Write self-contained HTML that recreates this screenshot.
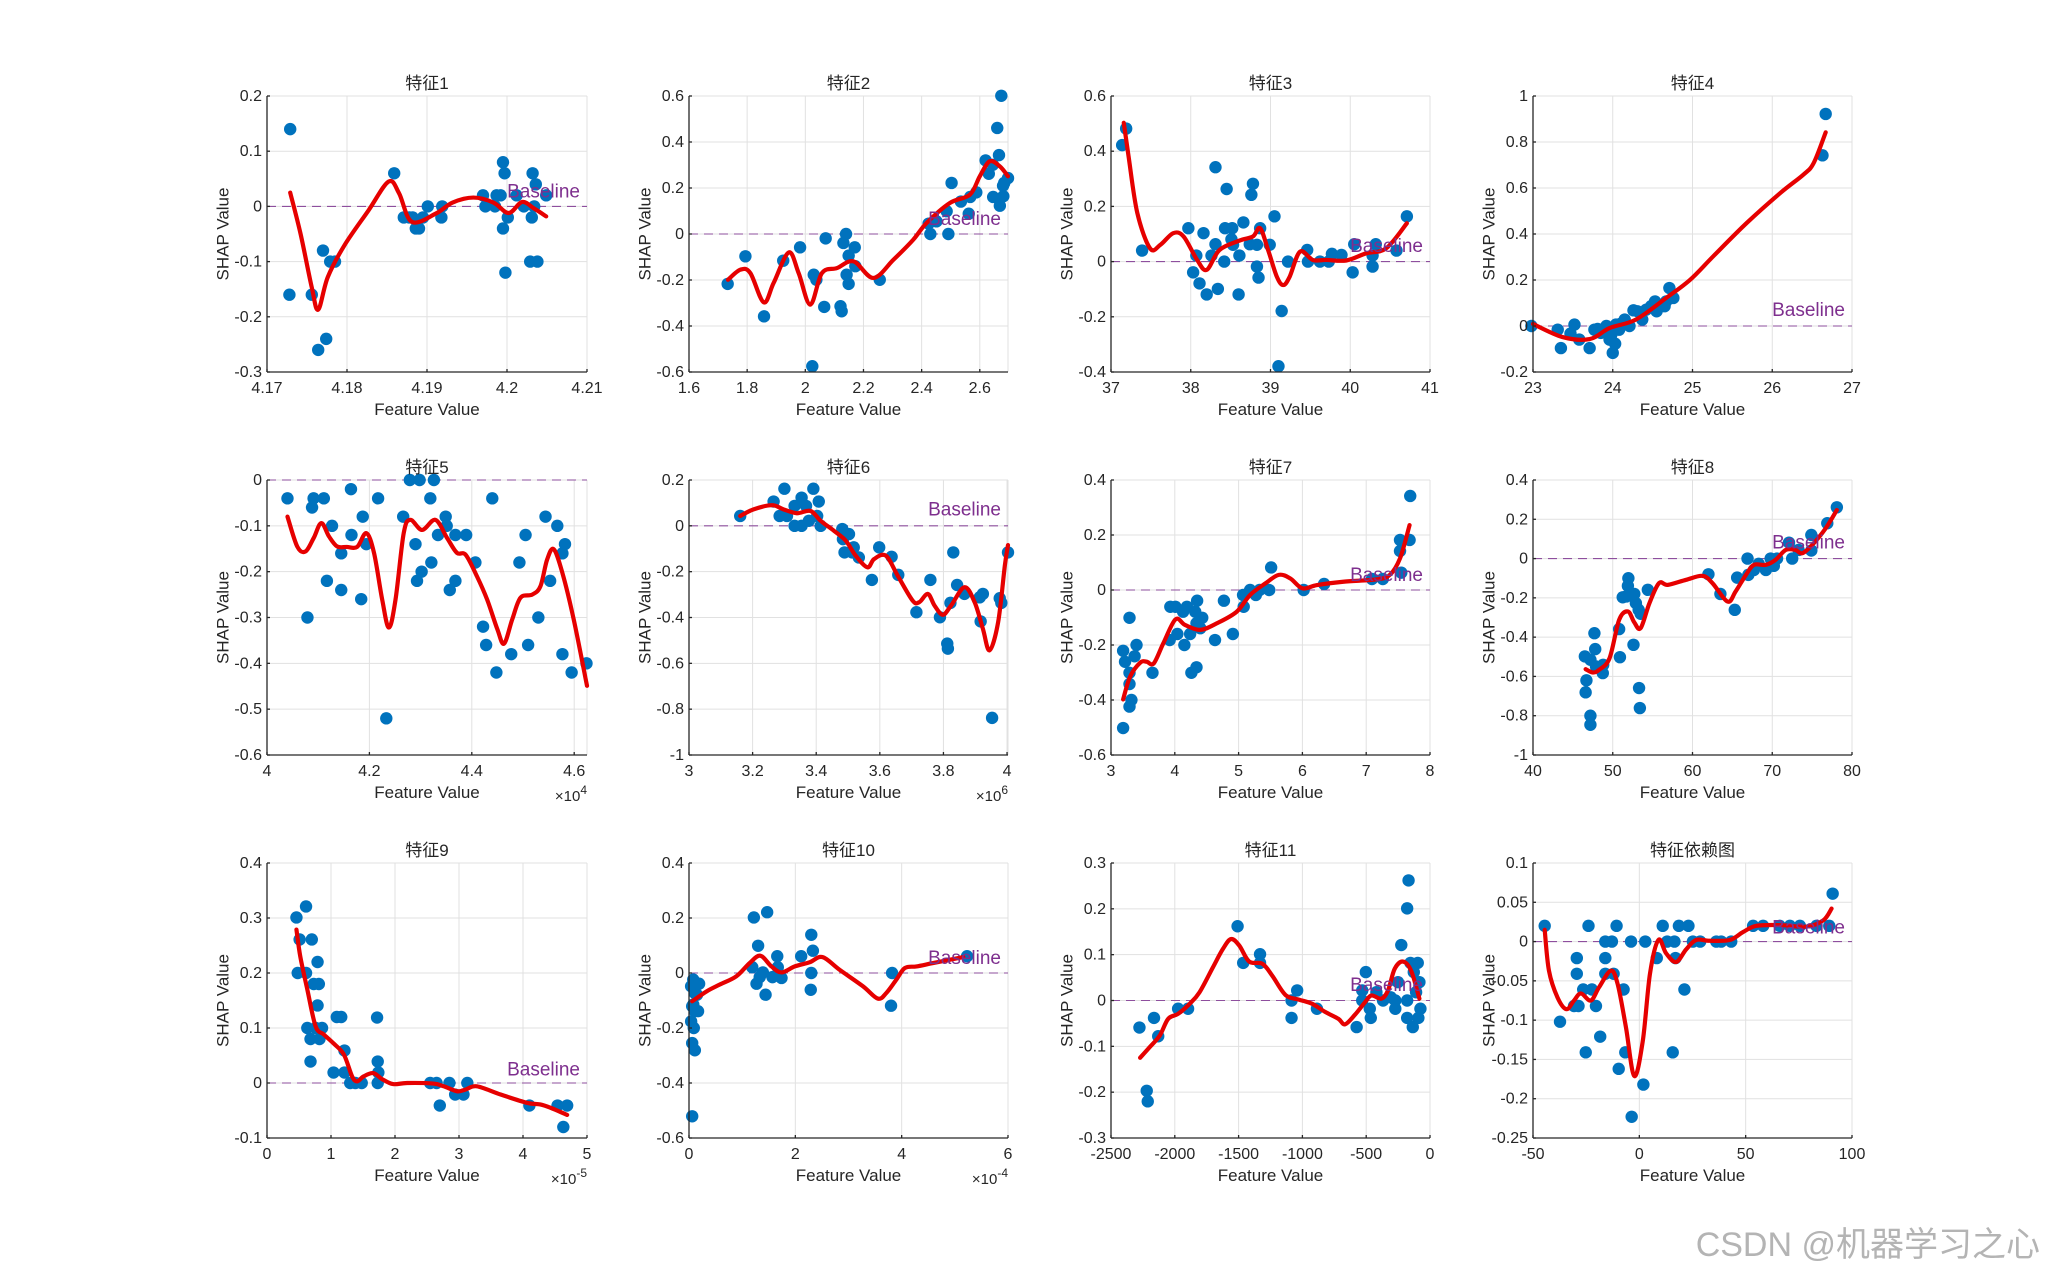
<!DOCTYPE html>
<html><head><meta charset="utf-8"><style>
html,body{margin:0;padding:0;background:#fff;}
svg{display:block;font-family:"Liberation Sans","Noto Sans CJK SC",sans-serif;}
</style></head><body>
<svg id="fig" width="2048" height="1280" viewBox="0 0 2048 1280" xmlns="http://www.w3.org/2000/svg">
<rect width="2048" height="1280" fill="#fff"/>
<text x="2040" y="1256" text-anchor="end" font-size="34" fill="#b4b4b4">CSDN @机器学习之心</text>
</svg>
<script>
// ---- data ----
const titles = ["特征1","特征2","特征3","特征4","特征5","特征6","特征7","特征8","特征9","特征10","特征11","特征依赖图"];
const p1x=[4.1729,4.1728,4.1756,4.177,4.1779,4.1785,4.1764,4.1774,4.1859,4.1871,4.1878,4.1901,4.1919,4.1918,4.1886,4.189,4.197,4.1973,4.1987,4.1995,4.1997,4.1995,4.2001,4.1998,4.2012,4.2032,4.2036,4.2031,4.2029,4.2038,4.2049,4.2034,4.2021,4.1992,4.1985,4.1882,4.1895];
const p1y=[0.14,-0.16,-0.16,-0.08,-0.10,-0.10,-0.26,-0.24,0.06,-0.02,-0.02,0,0,-0.02,-0.04,-0.04,0.02,0,0.02,0.08,0.06,-0.04,-0.02,-0.12,0.02,0.06,0.04,-0.02,-0.10,-0.10,0.02,0,0,0.02,0,-0.02,-0.02];
const c1x=[4.1729,4.1742,4.1756,4.1764,4.1776,4.1797,4.1827,4.1852,4.1865,4.1881,4.1911,4.1932,4.1958,4.1983,4.2002,4.2019,4.2034,4.2049];
const c1y=[0.025,-0.05,-0.147,-0.187,-0.128,-0.07,-0.007,0.045,0.024,-0.028,-0.013,0.007,0.016,0.007,-0.012,0.008,-0.004,-0.018];

const p2x=[1.733,1.794,1.858,1.924,1.982,2.024,2.029,2.038,2.070,2.065,2.121,2.125,2.140,2.131,2.149,2.170,2.172,2.142,2.149,2.256,2.424,2.430,2.451,2.486,2.492,2.503,2.535,2.562,2.567,2.588,2.620,2.631,2.645,2.660,2.666,2.674,2.646,2.669,2.681,2.684,2.697,2.68];
const p2y=[-0.217,-0.097,-0.358,-0.116,-0.058,-0.575,-0.177,-0.199,-0.019,-0.317,-0.314,-0.336,0,-0.039,-0.094,-0.058,-0.14,-0.177,-0.217,-0.199,0.045,0,0.055,0.099,0,0.222,0.141,0.088,0.161,0.181,0.32,0.262,0.301,0.461,0.343,0.601,0.161,0.123,0.164,0.222,0.243,0.21];
const c2x=[1.734,1.777,1.811,1.857,1.891,1.943,1.977,2.017,2.057,2.109,2.166,2.234,2.303,2.371,2.417,2.497,2.566,2.6,2.634,2.669,2.697];
const c2y=[-0.199,-0.155,-0.17,-0.297,-0.213,-0.08,-0.17,-0.307,-0.17,-0.148,-0.119,-0.191,-0.112,-0.025,0.048,0.135,0.171,0.251,0.316,0.294,0.251];

const p3x=[37.19,37.14,37.39,37.97,38.03,38.07,38.11,38.16,38.2,38.26,38.31,38.31,38.34,38.42,38.45,38.43,38.52,38.51,38.53,38.61,38.6,38.66,38.76,38.78,38.74,38.83,38.83,38.85,38.87,38.99,39.05,39.10,39.14,39.22,39.46,39.47,39.62,39.73,39.77,39.89,40.03,40.05,40.28,40.28,40.32,40.58,40.71];
const p3y=[0.482,0.422,0.04,0.121,-0.039,0.022,-0.079,0.103,-0.119,0.022,0.342,0.063,-0.099,0,0.263,0.121,0.121,0.081,0.061,0.022,-0.119,0.142,0.242,0.282,0.063,0.061,-0.018,-0.058,0.121,0.061,0.164,-0.379,-0.179,0,0.042,0,0,0,0.028,0.024,-0.039,0.063,0.022,-0.018,0.063,0.04,0.164];
const c3x=[37.16,37.22,37.33,37.49,37.62,37.78,37.91,38.08,38.2,38.36,38.61,38.78,38.87,38.97,39.08,39.16,39.24,39.37,39.53,39.70,39.95,40.2,40.45,40.71];
const c3y=[0.503,0.382,0.176,0.048,0.061,0.103,0.091,0.006,-0.03,0.042,0.076,0.091,0.121,0.042,-0.055,-0.085,-0.055,0.036,0.006,0.006,0.004,0.03,0.048,0.139];

const p4x=[22.98,23.31,23.35,23.52,23.47,23.58,23.71,23.77,23.81,23.92,23.96,24.0,24.03,24.04,24.08,24.15,24.21,24.26,24.31,24.37,24.42,24.48,24.53,24.55,24.65,24.67,24.71,24.76,26.63,26.67,23.85,23.98,24.1];
const p4y=[0,-0.016,-0.096,0.006,-0.033,-0.059,-0.096,-0.016,-0.013,0,-0.059,-0.117,-0.077,0.006,-0.016,0.028,0,0.068,0.064,0.028,0.071,0.086,0.107,0.064,0.086,0.107,0.165,0.122,0.742,0.922,-0.03,-0.04,0.01];
const c4x=[23,23.37,23.71,23.96,24.29,24.67,24.97,25.26,25.68,26.1,26.39,26.52,26.67];
const c4y=[0.009,-0.048,-0.057,-0.009,0.028,0.122,0.201,0.303,0.448,0.578,0.658,0.709,0.842];

const p5x=[4.040,4.079,4.088,4.091,4.111,4.127,4.117,4.145,4.145,4.164,4.165,4.187,4.184,4.194,4.217,4.233,4.266,4.279,4.298,4.290,4.293,4.302,4.319,4.326,4.321,4.334,4.349,4.351,4.368,4.368,4.357,4.389,4.407,4.422,4.428,4.440,4.448,4.477,4.493,4.505,4.510,4.530,4.544,4.553,4.567,4.577,4.577,4.582,4.595,4.624];
const p5y=[-0.04,-0.30,-0.06,-0.04,-0.04,-0.10,-0.22,-0.16,-0.24,-0.02,-0.12,-0.08,-0.26,-0.14,-0.04,-0.52,-0.08,0,0,-0.14,-0.22,-0.20,-0.04,0,-0.18,-0.12,-0.08,-0.10,-0.12,-0.22,-0.24,-0.12,-0.18,-0.32,-0.36,-0.04,-0.42,-0.38,-0.18,-0.12,-0.36,-0.30,-0.08,-0.22,-0.10,-0.38,-0.16,-0.14,-0.42,-0.40];
const c5x=[4.040,4.059,4.075,4.091,4.106,4.121,4.137,4.156,4.176,4.194,4.209,4.225,4.238,4.251,4.267,4.280,4.303,4.329,4.352,4.371,4.388,4.410,4.430,4.450,4.463,4.479,4.495,4.518,4.534,4.547,4.560,4.577,4.599,4.625];
const c5y=[-0.08,-0.145,-0.156,-0.127,-0.094,-0.123,-0.145,-0.146,-0.146,-0.116,-0.159,-0.261,-0.322,-0.261,-0.116,-0.087,-0.109,-0.087,-0.127,-0.159,-0.163,-0.210,-0.261,-0.326,-0.357,-0.304,-0.257,-0.25,-0.232,-0.174,-0.151,-0.203,-0.304,-0.449];

const p6x=[3.161,3.266,3.285,3.3,3.308,3.332,3.332,3.354,3.354,3.368,3.377,3.391,3.408,3.403,3.414,3.482,3.484,3.503,3.489,3.513,3.518,3.534,3.575,3.598,3.637,3.658,3.715,3.759,3.789,3.812,3.814,3.822,3.831,3.843,3.866,3.914,3.924,3.917,3.953,3.977,3.982,4.003];
const p6y=[0.043,0.106,0.043,0.162,0.043,0.087,0,0.123,0,0.087,0.022,0.162,0.106,0.043,0,-0.014,-0.058,-0.036,-0.116,-0.116,-0.094,-0.138,-0.236,-0.094,-0.135,-0.214,-0.377,-0.236,-0.399,-0.514,-0.536,-0.336,-0.116,-0.258,-0.297,-0.312,-0.297,-0.417,-0.838,-0.316,-0.336,-0.116];
const c6x=[3.161,3.203,3.261,3.297,3.339,3.382,3.414,3.456,3.493,3.524,3.561,3.582,3.619,3.656,3.703,3.724,3.751,3.772,3.798,3.824,3.866,3.898,3.924,3.945,3.972,3.993,4.003];
const c6y=[0.043,0.072,0.09,0.072,0.055,0.065,0.022,-0.022,-0.065,-0.130,-0.181,-0.145,-0.130,-0.217,-0.326,-0.333,-0.297,-0.348,-0.388,-0.348,-0.268,-0.333,-0.449,-0.543,-0.42,-0.174,-0.084];

const p7x=[3.19,3.19,3.22,3.29,3.29,3.29,3.32,3.29,3.37,3.40,3.65,3.93,3.92,4.01,4.04,4.13,4.15,4.19,4.24,4.26,4.32,4.34,4.34,4.35,4.40,4.43,4.63,4.77,4.91,5.07,5.08,5.18,5.27,5.33,5.48,5.51,6.02,6.34,7.09,7.26,7.53,7.53,7.55,7.68,7.69];
const p7y=[-0.502,-0.221,-0.261,-0.101,-0.301,-0.342,-0.40,-0.424,-0.241,-0.20,-0.301,-0.061,-0.182,-0.061,-0.16,-0.079,-0.20,-0.061,-0.16,-0.301,-0.079,-0.121,-0.281,-0.039,-0.139,-0.101,-0.182,-0.039,-0.16,-0.018,-0.061,0,-0.018,0,0,0.082,0,0.022,0.04,0.04,0.182,0.142,0.063,0.182,0.342];
const c7x=[3.19,3.30,3.46,3.56,3.67,3.82,4.01,4.16,4.40,4.66,4.97,5.18,5.42,5.63,5.81,6.0,6.23,6.64,7.17,7.37,7.53,7.68];
const c7y=[-0.398,-0.315,-0.264,-0.261,-0.267,-0.194,-0.107,-0.127,-0.145,-0.121,-0.079,-0.018,0.024,0.055,0.042,0.006,0.018,0.03,0.039,0.055,0.115,0.236];

const p8x=[46.5,46.7,46.6,47.2,47.2,47.2,47.7,47.8,47.9,48.75,48.8,50.8,50.9,51.25,51.96,51.9,51.7,52.6,52.7,52.9,53.25,53.3,53.4,53.5,54.4,62.0,63.5,65.3,65.6,66.9,67.0,67.7,68.3,69.2,69.8,70.2,70.6,72.1,72.5,73.3,74.9,74.9,76.9,78.1];
const p8y=[-0.498,-0.620,-0.681,-0.8,-0.846,-0.515,-0.38,-0.461,-0.549,-0.583,-0.541,-0.359,-0.502,-0.197,-0.1,-0.139,-0.193,-0.439,-0.180,-0.227,-0.261,-0.659,-0.761,-0.281,-0.159,-0.08,-0.18,-0.261,-0.097,0,-0.083,-0.058,-0.027,-0.058,0,-0.037,0,0.081,0,0.044,0.12,0.041,0.18,0.261];
const c8x=[46.6,47.5,48.3,49.6,50.8,51.9,52.7,53.5,54.6,55.8,56.9,59.2,61.25,62.5,64.4,65.4,66.7,67.7,69.2,70.4,71.7,72.9,73.75,75,76.7,78.1];
const c8y=[-0.563,-0.58,-0.566,-0.507,-0.312,-0.269,-0.325,-0.354,-0.227,-0.125,-0.134,-0.108,-0.088,-0.125,-0.219,-0.168,-0.083,-0.032,-0.032,-0.007,0.044,0.044,0.027,0.069,0.154,0.247];

const p9x=[0.46,0.61,0.51,0.70,0.48,0.61,0.79,0.73,0.81,0.79,0.63,0.68,0.76,0.86,0.82,0.68,1.04,1.09,1.16,1.21,1.21,1.30,1.38,1.48,1.72,1.73,1.74,1.73,2.55,2.65,2.70,2.85,2.94,3.07,3.13,4.10,4.54,4.69,4.63];
const p9y=[0.301,0.321,0.261,0.261,0.2,0.2,0.22,0.18,0.18,0.141,0.1,0.08,0.1,0.1,0.08,0.039,0.019,0.12,0.12,0.059,0.019,0,0,0,0.119,0.039,0.019,0,0,0,-0.041,0,-0.021,-0.021,0,-0.041,-0.041,-0.041,-0.08];
const c9x=[0.46,0.52,0.63,0.76,0.89,1.04,1.20,1.33,1.41,1.51,1.66,1.80,1.97,2.19,2.6,2.76,2.97,3.10,3.28,3.65,4.06,4.27,4.43,4.69];
const c9y=[0.279,0.230,0.170,0.103,0.088,0.072,0.052,0.012,0.003,0.012,0.018,0.007,-0.002,0,-0.001,-0.006,-0.015,-0.012,-0.006,-0.021,-0.036,-0.039,-0.045,-0.058];

const p10x=[0.04,0.08,0.11,0.14,0.08,0.11,0.04,0.09,0.06,0.11,0.06,0.17,0.15,0.19,0.06,1.22,1.47,1.30,1.19,1.27,1.33,1.39,1.44,1.57,1.66,1.67,1.74,2.11,2.30,2.33,2.30,2.29,3.82,3.80,5.23];
const p10y=[-0.048,-0.024,-0.073,-0.039,-0.115,-0.139,-0.176,-0.2,-0.255,-0.281,-0.521,-0.139,-0.079,-0.039,-0.121,0.202,0.221,0.099,0.021,-0.039,-0.015,0.002,-0.079,-0.015,0.061,0.021,-0.018,0.061,0.139,0.081,0,-0.061,0,-0.119,0.061];
const c10x=[0.06,0.33,0.58,0.89,1.14,1.34,1.55,1.74,1.99,2.27,2.51,2.83,3.27,3.55,3.71,3.90,4.06,4.28,4.59,5.16];
const c10y=[-0.103,-0.067,-0.042,-0.012,0.036,0.063,0.024,0.002,0.024,0.039,0.058,0.012,-0.048,-0.093,-0.073,-0.024,0.018,0.024,0.036,0.058];

const p11x=[-2277,-2220,-2212,-2163,-2130,-1974,-1896,-1508,-1464,-1332,-1332,-1085,-1085,-1041,-886,-575,-503,-531,-531,-472,-464,-420,-368,-308,-272,-272,-251,-225,-179,-179,-179,-168,-153,-135,-109,-96,-83,-75,-91,-127];
const p11y=[-0.059,-0.197,-0.22,-0.038,-0.078,-0.018,-0.018,0.162,0.082,0.101,0.082,0,-0.038,0.022,-0.018,-0.058,0.062,0.022,0,-0.018,-0.038,0.018,0,0.007,0,-0.018,0.04,0.121,-0.038,0,0.201,0.262,0.082,-0.058,0.018,0.082,0.04,-0.018,-0.038,0.062];
const c11x=[-2272,-2194,-2117,-2052,-1974,-1883,-1806,-1702,-1624,-1560,-1495,-1417,-1313,-1236,-1132,-1028,-925,-821,-718,-666,-588,-510,-459,-381,-329,-277,-212,-148,-83];
const c11y=[-0.125,-0.101,-0.076,-0.040,-0.029,-0.007,0.018,0.072,0.112,0.134,0.120,0.085,0.08,0.054,0.012,0.002,-0.007,-0.025,-0.040,-0.052,-0.031,-0.004,0.011,0.004,0.022,0.069,0.085,0.065,0.004];

const p12x=[-44.5,-37.3,-30.7,-29.4,-29.4,-28.6,-26.4,-25.2,-23.9,-22.3,-20.4,-18.4,-16,-16,-16,-12.9,-12.1,-10.7,-7.4,-6.6,-9.7,-3.9,-3.6,1.9,2.8,8.2,11,13.1,16.5,17,18.6,15.7,21.2,23.1,25.2,28.6,36.2,38.5,43.2,53.5,58.2,66,70.8,75.5,83.3,89.3,90.9];
const p12y=[0.02,-0.102,-0.082,-0.021,-0.041,-0.082,-0.061,-0.141,0.02,-0.061,-0.082,-0.121,0,-0.021,-0.041,0,-0.041,0.02,-0.061,-0.141,-0.162,0,-0.223,-0.182,0,-0.021,0.02,0,0,-0.021,0.02,-0.141,-0.061,0.02,0,0,0,0,0,0.02,0.02,0.02,0.02,0.02,0.02,0.02,0.061];
const c12x=[-44.5,-42.5,-38.5,-34.3,-30.7,-27.5,-22.8,-18.9,-13.4,-10.2,-6.3,-2.4,1.6,5.0,8.96,12.6,17.3,22.0,26.7,33,42.5,48.7,55,66,78.6,86.5,90.4];
const c12y=[0.015,-0.037,-0.071,-0.086,-0.075,-0.066,-0.075,-0.058,-0.037,-0.054,-0.109,-0.171,-0.127,-0.041,0.002,-0.015,-0.026,-0.010,0.002,0.001,0.002,0.012,0.02,0.021,0.019,0.027,0.042];

// axis ranges & ticks
const xRanges=[[4.17,4.21],[1.6,2.697],[37,41],[23,27],[4,4.625],[3,4.003],[3,8],[40,80],[0,5],[0,6],[-2500,0],[-50,100]];
const yRanges=[[-0.3,0.2],[-0.6,0.6],[-0.4,0.6],[-0.2,1],[-0.6,0],[-1,0.2],[-0.6,0.4],[-1,0.4],[-0.1,0.4],[-0.6,0.4],[-0.3,0.3],[-0.25,0.1]];
const xTicks=[[4.17,4.18,4.19,4.2,4.21],[1.6,1.8,2,2.2,2.4,2.6],[37,38,39,40,41],[23,24,25,26,27],[4,4.2,4.4,4.6],[3,3.2,3.4,3.6,3.8,4],[3,4,5,6,7,8],[40,50,60,70,80],[0,1,2,3,4,5],[0,2,4,6],[-2500,-2000,-1500,-1000,-500,0],[-50,0,50,100]];
const xTickLabels=[["4.17","4.18","4.19","4.2","4.21"],["1.6","1.8","2","2.2","2.4","2.6"],["37","38","39","40","41"],["23","24","25","26","27"],["4","4.2","4.4","4.6"],["3","3.2","3.4","3.6","3.8","4"],["3","4","5","6","7","8"],["40","50","60","70","80"],["0","1","2","3","4","5"],["0","2","4","6"],["-2500","-2000","-1500","-1000","-500","0"],["-50","0","50","100"]];
const yTicks=[[-0.3,-0.2,-0.1,0,0.1,0.2],[-0.6,-0.4,-0.2,0,0.2,0.4,0.6],[-0.4,-0.2,0,0.2,0.4,0.6],[-0.2,0,0.2,0.4,0.6,0.8,1],[-0.6,-0.5,-0.4,-0.3,-0.2,-0.1,0],[-1,-0.8,-0.6,-0.4,-0.2,0,0.2],[-0.6,-0.4,-0.2,0,0.2,0.4],[-1,-0.8,-0.6,-0.4,-0.2,0,0.2,0.4],[-0.1,0,0.1,0.2,0.3,0.4],[-0.6,-0.4,-0.2,0,0.2,0.4],[-0.3,-0.2,-0.1,0,0.1,0.2,0.3],[-0.25,-0.2,-0.15,-0.1,-0.05,0,0.05,0.1]];
const exponents=["","","","","4","6","","","-5","-4","",""];
const baselineLabelY=[0.027,0.065,0.057,0.07,null,0.072,0.055,0.081,0.025,0.055,0.034,0.018];

const PX=[p1x,p2x,p3x,p4x,p5x,p6x,p7x,p8x,p9x,p10x,p11x,p12x];
const PY=[p1y,p2y,p3y,p4y,p5y,p6y,p7y,p8y,p9y,p10y,p11y,p12y];
const CX=[c1x,c2x,c3x,c4x,c5x,c6x,c7x,c8x,c9x,c10x,c11x,c12x];
const CY=[c1y,c2y,c3y,c4y,c5y,c6y,c7y,c8y,c9y,c10y,c11y,c12y];

// ---- layout ----
const colL=[267,689,1111,1533], colR=[587,1008,1430,1852];
const rowT=[96,480,863], rowB=[372,755,1138];
const NS="http://www.w3.org/2000/svg";
const fig=document.getElementById('fig');
function mk(tag,attrs,parent){const e=document.createElementNS(NS,tag);for(const k in attrs)e.setAttribute(k,attrs[k]);parent.appendChild(e);return e;}
function fmtY(v){return (+v.toFixed(3)).toString();}

for(let i=0;i<12;i++){
  const L=colL[i%4],R=colR[i%4],T=rowT[Math.floor(i/4)],B=rowB[Math.floor(i/4)];
  const [x0,x1]=xRanges[i],[y0,y1]=yRanges[i];
  const sx=v=>L+(v-x0)/(x1-x0)*(R-L);
  const sy=v=>B-(v-y0)/(y1-y0)*(B-T);
  const g=mk('g',{},fig);
  
  
  const grid=mk('g',{stroke:'#e1e1e1','stroke-width':1},g);
  
  
  xTicks[i].forEach(v=>{const x=sx(v);mk('line',{x1:x,x2:x,y1:T,y2:B},grid);});
  yTicks[i].forEach(v=>{const y=sy(v);mk('line',{x1:L,x2:R,y1:y,y2:y},grid);});
  mk('line',{x1:R,x2:R,y1:T,y2:B},grid);mk('line',{x1:L,x2:R,y1:T,y2:T},grid);
  const bl=mk('line',{x1:L,x2:R,y1:sy(0),y2:sy(0),stroke:'#8E4F9E','stroke-width':1.1,'stroke-dasharray':'9,6'},g);
  
  
  const sc=mk('g',{fill:'#0072BD'},g);
  
  
  PX[i].forEach((v,j)=>{const c=mk('circle',{cx:sx(v),cy:sy(PY[i][j]),r:6.2},sc);
    
    });
  const pts=CX[i].map((v,j)=>[sx(v),sy(CY[i][j])]);
  let d='M'+pts[0][0]+','+pts[0][1];
  for(let k=0;k<pts.length-1;k++){
    const p0=pts[Math.max(k-1,0)],p1=pts[k],p2=pts[k+1],p3=pts[Math.min(k+2,pts.length-1)];
    const c1=[p1[0]+(p2[0]-p0[0])/6,p1[1]+(p2[1]-p0[1])/6],c2=[p2[0]-(p3[0]-p1[0])/6,p2[1]-(p3[1]-p1[1])/6];
    d+=' C'+c1[0]+','+c1[1]+' '+c2[0]+','+c2[1]+' '+p2[0]+','+p2[1];
  }
  const cv=mk('path',{d:d,fill:'none',stroke:'#e60000','stroke-width':4.2,'stroke-linejoin':'round','stroke-linecap':'round'},g);
  
  
  if(baselineLabelY[i]!==null){
    const bt=mk('text',{x:R-7,y:sy(baselineLabelY[i])+6,'text-anchor':'end','font-size':19,fill:'#7E2F8E'},g);
    bt.textContent='Baseline';
    
    
  }
  const ax=mk('g',{stroke:'#262626','stroke-width':1.3},g);
  
  
  mk('line',{x1:L,x2:L,y1:T,y2:B},ax);mk('line',{x1:L,x2:R,y1:B,y2:B},ax);
  xTicks[i].forEach(v=>{const x=sx(v);mk('line',{x1:x,x2:x,y1:B,y2:B-3},ax);});
  yTicks[i].forEach(v=>{const y=sy(v);mk('line',{x1:L,x2:L+3,y1:y,y2:y},ax);});
  xTicks[i].forEach((v,j)=>{const t=mk('text',{x:sx(v),y:B+21,'text-anchor':'middle','font-size':16,fill:'#262626'},g);
    t.textContent=xTickLabels[i][j];
    
    });
  yTicks[i].forEach(v=>{const t=mk('text',{x:L-5,y:sy(v)+5,'text-anchor':'end','font-size':16,fill:'#262626'},g);
    t.textContent=fmtY(v);
    
    });
  if(exponents[i]){
    const t=mk('text',{x:R,y:B+46,'text-anchor':'end','font-size':15,fill:'#262626'},g);
    
    
    t.textContent='×10';
    const s=mk('tspan',{dy:-7,'font-size':12},t);s.textContent=exponents[i];
  }
  const xl=mk('text',{x:(L+R)/2,y:B+43,'text-anchor':'middle','font-size':17,fill:'#262626'},g);
  xl.textContent='Feature Value';
  
  
  const yc=(T+B)/2;
  const yl=mk('text',{x:L-43,y:yc,'text-anchor':'middle','font-size':17,fill:'#262626',transform:'rotate(-90 '+(L-43)+' '+yc+')','dominant-baseline':'middle'},g);
  yl.textContent='SHAP Value';
  
  
  const tt=mk('text',{x:(L+R)/2,y:T-7,'text-anchor':'middle','font-size':17,fill:'#262626'},g);
  tt.textContent=titles[i];
  
  
}
</script>
</body></html>
